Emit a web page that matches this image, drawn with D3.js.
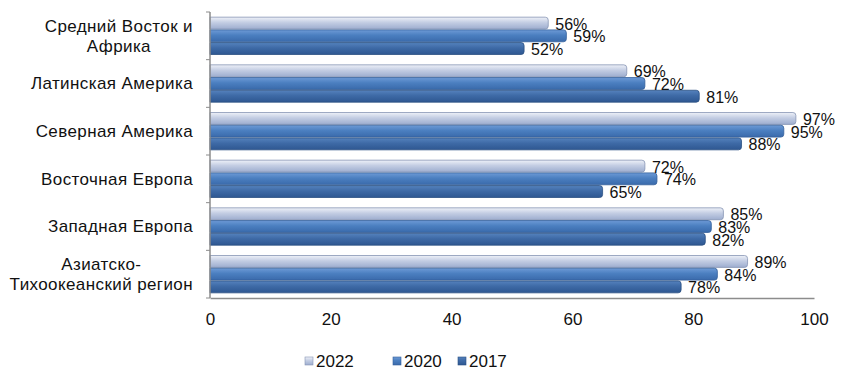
<!DOCTYPE html>
<html>
<head>
<meta charset="utf-8">
<script src="https://cdn.jsdelivr.net/npm/d3@7"></script>
<style>
  body { margin: 0; background: #fff; }
  text { font-family: "Liberation Sans", Arial, sans-serif; fill: #111; }
</style>
</head>
<body>
<script>
// data
const categories = [
  ["Средний Восток и", "Африка"],
  ["Латинская Америка"],
  ["Северная Америка"],
  ["Восточная Европа"],
  ["Западная Европа"],
  ["Азиатско-", "Тихоокеанский регион"]
];
const series = ["2022", "2020", "2017"];
const values2022 = [56, 69, 97, 72, 85, 89];
const values2020 = [59, 72, 95, 74, 83, 84];
const values2017 = [52, 81, 88, 65, 82, 78];
const xTicks = [0, 20, 40, 60, 80, 100];

const colors = {
  "2022": ["#eef1f8", "#c3cde3", "#9dadcf", "#8694b4"],
  "2020": ["#6d9ad6", "#4b7fc0", "#3a6aab", "#335f9a"],
  "2017": ["#5582bd", "#3e6aa6", "#2e5791", "#2a4f82"]
};

let margin = {top: 12, right: 32, bottom: 77, left: 210},
    width = 846 - margin.left - margin.right,
    height = 375 - margin.top - margin.bottom;

let svg = d3.select("body").append("svg")
    .attr("width", 846)
    .attr("height", 375);

// gradients for the glossy bars
let defs = svg.append("defs");
series.forEach(s => {
  let gr = defs.append("linearGradient")
      .attr("id", "grad" + s)
      .attr("x1", 0).attr("y1", 0).attr("x2", 0).attr("y2", 1);
  gr.append("stop").attr("offset", "0%").attr("stop-color", colors[s][0]);
  gr.append("stop").attr("offset", "45%").attr("stop-color", colors[s][1]);
  gr.append("stop").attr("offset", "100%").attr("stop-color", colors[s][2]);
});

let g = svg.append("g")
    .attr("transform", `translate(${margin.left}, ${margin.top})`);

let x = d3.scaleLinear().domain([0, 100]).range([0, width]);

let y = d3.scaleBand()
    .domain(d3.range(categories.length))
    .range([0, height])
    .paddingInner(0.2)
    .paddingOuter(0.1);

let ySub = d3.scaleBand()
    .domain(series)
    .range([0, y.bandwidth()]);

let rows = categories.map((c, i) => ({
  i: i,
  vals: [
    {s: "2022", v: values2022[i]},
    {s: "2020", v: values2020[i]},
    {s: "2017", v: values2017[i]}
  ]
}));

// bars
let groups = g.selectAll(".grp")
  .data(rows)
  .enter().append("g")
    .attr("class", "grp")
    .attr("transform", d => `translate(0, ${y(d.i)})`);

groups.selectAll("path")
  .data(d => d.vals)
  .enter().append("path")
    .attr("fill", d => `url(#grad${d.s})`)
    .attr("stroke", d => colors[d.s][3])
    .attr("stroke-width", 0.8)
    .attr("d", d => {
      let y0 = ySub(d.s) + 0.4, h = ySub.bandwidth() - 0.8, w = x(d.v), r = 3;
      return `M0,${y0}H${w - r}Q${w},${y0} ${w},${y0 + r}V${y0 + h - r}Q${w},${y0 + h} ${w - r},${y0 + h}H0Z`;
    });

groups.selectAll("text")
  .data(d => d.vals)
  .enter().append("text")
    .attr("x", d => x(d.v) + 7)
    .attr("y", d => ySub(d.s) + ySub.bandwidth() / 2 + 1)
    .attr("dy", "0.35em")
    .style("font-size", "16px")
    .text(d => d.v + "%");

// axes
const xAxis = d3.axisBottom(x).tickValues(xTicks).tickSize(0).tickPadding(15);

let xg = g.append("g")
    .attr("transform", `translate(0, ${height})`)
    .call(xAxis);
xg.select(".domain").attr("stroke", "#8c8c8c").attr("stroke-width", 1.5);
xg.selectAll("text")
    .style("font-size", "17px")
    .style("font-family", "'Liberation Sans', Arial, sans-serif");

g.append("line")
    .attr("x1", 0).attr("x2", 0)
    .attr("y1", 0).attr("y2", height)
    .attr("stroke", "#8c8c8c")
    .attr("stroke-width", 1.5);

// small ticks between categories
g.selectAll(".ytick")
  .data(d3.range(categories.length + 1))
  .enter().append("line")
    .attr("x1", -4).attr("x2", 0)
    .attr("y1", d => d * y.step())
    .attr("y2", d => d * y.step())
    .attr("stroke", "#8c8c8c");

// category labels: block right-aligned at x=193, lines centred inside it
let labels = g.selectAll(".cat")
  .data(categories)
  .enter().append("text")
    .attr("class", "cat")
    .attr("text-anchor", "middle")
    .style("font-size", "17px")
    .style("letter-spacing", "0.4px");

labels.selectAll("tspan")
  .data(d => d.map((t, k) => ({t: t, k: k, n: d.length})))
  .enter().append("tspan")
    .attr("x", 0)
    .attr("y", d => (d.k - (d.n - 1) / 2) * 20)
    .attr("dy", "0.35em")
    .text(d => d.t);

labels.each(function(d, i) {
  let w = d3.max(d3.select(this).selectAll("tspan").nodes(), n => n.getComputedTextLength());
  let right = 193 - margin.left;
  d3.select(this).attr("transform", `translate(${right - w / 2}, ${y(i) + y.bandwidth() / 2})`);
});

// legend
let legendX = [305, 393, 458];
let legend = svg.selectAll(".leg")
  .data(series)
  .enter().append("g")
    .attr("transform", (d, i) => `translate(${legendX[i]}, 361)`);

legend.append("rect")
    .attr("x", 0).attr("y", -4)
    .attr("width", 8).attr("height", 8)
    .attr("fill", d => `url(#grad${d})`)
    .attr("stroke", d => colors[d][3])
    .attr("stroke-width", 0.6);

legend.append("text")
    .attr("x", 11)
    .attr("dy", "0.35em")
    .style("font-size", "17px")
    .text(d => d);
</script>
</body>
</html>
